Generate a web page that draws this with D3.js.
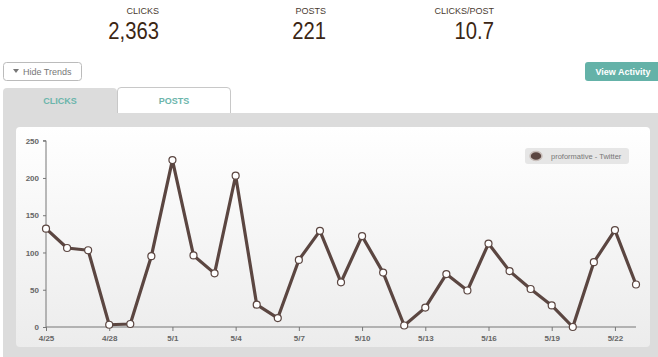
<!DOCTYPE html>
<html><head><meta charset="utf-8">
<script src="https://cdn.jsdelivr.net/npm/d3@7"></script>
<style>
html,body{margin:0;padding:0;background:#fff;overflow:hidden;}
svg{display:block;font-family:"Liberation Sans",Arial,sans-serif;}
</style></head><body>
<svg id="c" width="658" height="357"></svg>
<script>
const dates = ["4/25","4/26","4/27","4/28","4/29","4/30","5/1","5/2","5/3","5/4","5/5","5/6","5/7","5/8","5/9","5/10","5/11","5/12","5/13","5/14","5/15","5/16","5/17","5/18","5/19","5/20","5/21","5/22","5/23"];
const clicks = [132,106,103,3,4,95,224,96,72,203,30,12,90,129,60,122,73,2,26,71,49,112,75,51,29,0,87,130,57];
const yTicks = [0,50,100,150,200,250];
const xTickLabels = ["4/25","4/28","5/1","5/4","5/7","5/10","5/13","5/16","5/19","5/22"];
const statLabels = ["CLICKS","POSTS","CLICKS/POST"];
const statValues = ["2,363","221","10.7"];
const seriesName = "proformative - Twitter";

const svg = d3.select("#c");
const defs = svg.append("defs");
const g1 = defs.append("linearGradient").attr("id","cardg").attr("x1",0).attr("y1",0).attr("x2",0).attr("y2",1);
g1.append("stop").attr("offset","0%").attr("stop-color","#ffffff");
g1.append("stop").attr("offset","100%").attr("stop-color","#ececec");

// Stats
const statX = [159, 326, 494];
statLabels.forEach((l,i)=>{
  svg.append("text").attr("x",statX[i]).attr("y",14).attr("text-anchor","end")
    .attr("font-size",9).attr("fill","#4a3a30").text(l);
  svg.append("g").attr("transform",`translate(${statX[i]},39) scale(0.88,1)`)
    .append("text").attr("text-anchor","end")
    .attr("font-size",23).attr("fill","#3b2614").text(statValues[i]);
});

// Hide Trends button
svg.append("rect").attr("x",3.5).attr("y",62.5).attr("width",78).attr("height",18).attr("rx",3)
  .attr("fill","#fff").attr("stroke","#bbb");
svg.append("path").attr("d","M13,69 L19,69 L16,73 Z").attr("fill","#777");
svg.append("text").attr("x",23).attr("y",75).attr("font-size",9).attr("fill","#777").text("Hide Trends");

// View Activity button
svg.append("rect").attr("x",585).attr("y",62).attr("width",78).attr("height",19).attr("rx",3).attr("fill","#64b2a8");
svg.append("text").attr("x",623).attr("y",75).attr("text-anchor","middle").attr("font-size",9)
  .attr("font-weight","bold").attr("fill","#fff").text("View Activity");

// Panel
svg.append("path").attr("d","M3,113 L3,92 Q3,88 7,88 L113,88 Q117,88 117,92 L117,113 Z").attr("fill","#dcdcdc");
svg.append("rect").attr("x",3).attr("y",113).attr("width",660).attr("height",250).attr("fill","#dcdcdc");
svg.append("path").attr("d","M117.5,113 L117.5,91 Q117.5,87.5 121,87.5 L227,87.5 Q230.5,87.5 230.5,91 L230.5,113")
  .attr("fill","#fff").attr("stroke","#c8c8c8");
svg.append("text").attr("x",60).attr("y",104).attr("text-anchor","middle").attr("font-size",9)
  .attr("font-weight","bold").attr("fill","#6bb5ab").text("CLICKS");
svg.append("text").attr("x",174).attr("y",104).attr("text-anchor","middle").attr("font-size",9)
  .attr("font-weight","bold").attr("fill","#6bb5ab").text("POSTS");

// Card
svg.append("rect").attr("x",16).attr("y",127).attr("width",634).attr("height",220).attr("rx",4)
  .attr("fill","url(#cardg)");

const x = d3.scalePoint().domain(dates).range([46, 636]);
const y = d3.scaleLinear().domain([0,250]).range([327, 140.7]);

const plot = svg.append("g");
// y axis
const yAx = plot.append("g").attr("transform","translate(46,0)")
  .call(d3.axisLeft(y).tickValues(yTicks).tickSize(3).tickPadding(4));
yAx.select(".domain").attr("stroke","#777").attr("d","M-3,140.7H0V327");
yAx.selectAll(".tick line").attr("stroke","#777");
yAx.selectAll("text").attr("font-size",8).attr("font-weight","bold").attr("fill","#666")
  .attr("font-family","Liberation Sans, Arial, sans-serif");

const xAx = plot.append("g").attr("transform","translate(0,327)")
  .call(d3.axisBottom(x).tickValues(xTickLabels).tickSize(4).tickPadding(4));
xAx.select(".domain").attr("stroke","#777").attr("d","M46,0H636");
xAx.selectAll(".tick line").attr("stroke","#777");
xAx.selectAll("text").attr("font-size",8).attr("font-weight","bold").attr("fill","#666")
  .attr("font-family","Liberation Sans, Arial, sans-serif");

const line = d3.line().x((d,i)=>x(dates[i])).y(d=>y(d));
plot.append("path").datum(clicks).attr("d",line).attr("fill","none")
  .attr("stroke","#5b4641").attr("stroke-width",3.2).attr("stroke-linejoin","round");
plot.selectAll("circle.pt").data(clicks).enter().append("circle").attr("class","pt")
  .attr("cx",(d,i)=>x(dates[i])).attr("cy",d=>y(d)).attr("r",3.5)
  .attr("fill","#fff").attr("stroke","#5b4641").attr("stroke-width",1.2);

// Legend
svg.append("rect").attr("x",525).attr("y",148).attr("width",104).attr("height",16).attr("rx",3).attr("fill","#e6e6e6");
svg.append("ellipse").attr("cx",536).attr("cy",156).attr("rx",6).attr("ry",4.5)
  .attr("fill","#5b4641").attr("stroke","#c9bfbb").attr("stroke-width",1.5);
svg.append("text").attr("x",551).attr("y",159).attr("font-size",7.5).attr("fill","#777").text(seriesName);
</script>
</body></html>
